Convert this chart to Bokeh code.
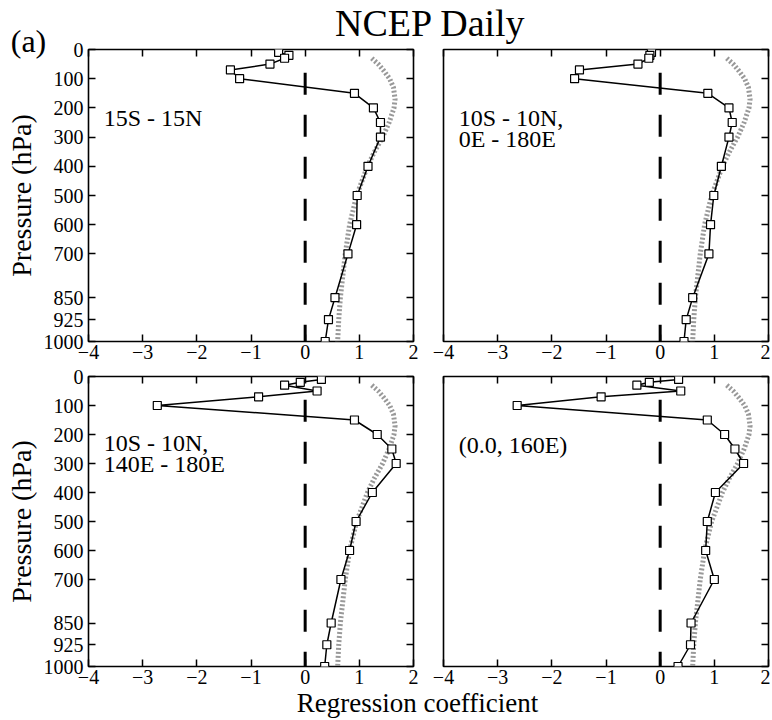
from bokeh.plotting import figure
from bokeh.layouts import column, row
from bokeh.models import FixedTicker, LinearAxis, Label, Range1d
from bokeh.embed import file_html
from bokeh.resources import INLINE

# ---------------- data ----------------
TITLE = "NCEP Daily"
PANEL_TAG = "(a)"
X_LABEL = "Regression coefficient"
Y_LABEL = "Pressure (hPa)"

pressure = [10, 20, 30, 50, 70, 100, 150, 200, 250, 300, 400, 500, 600, 700, 850, 925, 1000]
y_ticks = [0, 100, 200, 300, 400, 500, 600, 700, 850, 925, 1000]
x_ticks = [-4, -3, -2, -1, 0, 1, 2]
x_tick_labels = ["\u22124", "\u22123", "\u22122", "\u22121", "0", "1", "2"]

coef_15s_15n = [-0.49, -0.30, -0.38, -0.65, -1.38, -1.21, 0.91, 1.26, 1.39, 1.39,
                1.16, 0.96, 0.95, 0.79, 0.55, 0.43, 0.37]
coef_10s_10n_0e_180e = [-0.16, -0.19, -0.21, -0.41, -1.49, -1.58, 0.88, 1.27, 1.33, 1.27,
                        1.13, 0.99, 0.93, 0.90, 0.60, 0.48, 0.44]
coef_10s_10n_140e_180e = [0.30, -0.09, -0.38, 0.22, -0.86, -2.73, 0.91, 1.33, 1.60, 1.68,
                          1.24, 0.94, 0.82, 0.66, 0.48, 0.40, 0.36]
coef_0n_160e = [0.34, -0.20, -0.43, 0.38, -1.09, -2.64, 0.87, 1.19, 1.38, 1.54,
                1.02, 0.87, 0.84, 1.00, 0.57, 0.56, 0.33]

ref_pressure = [30, 50, 70, 100, 130, 170, 200, 250, 300, 350, 400, 500, 600, 700, 850, 925, 1000]
ref_coef = [1.23, 1.35, 1.44, 1.56, 1.63, 1.66, 1.64, 1.55, 1.43, 1.28, 1.15, 0.95, 0.82,
            0.74, 0.65, 0.62, 0.60]

zero_x = [0, 0]
zero_p = [80, 1000]

region_15s_15n = ["15S - 15N"]
region_0e_180e = ["10S - 10N,", "0E - 180E"]
region_140e_180e = ["10S - 10N,", "140E - 180E"]
region_point = ["(0.0, 160E)"]

FONT = "Liberation Serif"


def style_axis(ax, labels=True, standoff=3):
    ax.axis_line_color = None
    ax.major_tick_in = 7
    ax.major_tick_out = 0
    ax.major_tick_line_color = "black"
    ax.major_tick_line_width = 1.5
    ax.minor_tick_line_color = None
    ax.major_label_text_font = FONT
    if labels:
        ax.major_label_text_color = "black"
        ax.major_label_text_font_size = "20px"
        ax.major_label_standoff = standoff
    else:
        ax.major_label_text_color = None
        ax.major_label_text_font_size = "0px"
        ax.major_label_standoff = 0


def make_panel(coef, region, left_labels, frame_h, b_top, b_bottom, b_left, b_right,
               label_p):
    p = figure(frame_width=325, frame_height=frame_h,
               x_range=Range1d(-4, 2), y_range=Range1d(1000, 0),
               x_axis_location=None, y_axis_location=None,
               toolbar_location=None, output_backend="svg",
               min_border_top=b_top, min_border_bottom=b_bottom,
               min_border_left=b_left, min_border_right=b_right,
               border_fill_color=None, background_fill_color="white")
    p.outline_line_color = "black"
    p.outline_line_width = 1.6
    p.grid.visible = False

    bottom = LinearAxis(ticker=FixedTicker(ticks=x_ticks),
                        major_label_overrides=dict(zip(x_ticks, x_tick_labels)))
    style_axis(bottom, True, 3)
    p.add_layout(bottom, "below")

    top = LinearAxis(ticker=FixedTicker(ticks=x_ticks))
    style_axis(top, False)
    p.add_layout(top, "above")

    right = LinearAxis(ticker=FixedTicker(ticks=y_ticks))
    style_axis(right, False)
    p.add_layout(right, "right")

    if left_labels:
        left = LinearAxis(ticker=FixedTicker(ticks=y_ticks), axis_label=Y_LABEL)
        style_axis(left, True, 5)
        left.axis_label_text_font = FONT
        left.axis_label_text_font_size = "28px"
        left.axis_label_text_font_style = "normal"
        left.axis_label_text_color = "black"
        left.axis_label_standoff = 4
        p.add_layout(left, "left")

    # reference (dotted grey) profile
    p.line(ref_coef, ref_pressure, line_color="#999999", line_width=5, line_dash="2 2")
    # zero line
    p.line(zero_x, zero_p, line_color="black", line_width=3, line_dash="22 20")
    # regression profile
    p.line(coef, pressure, line_color="black", line_width=1.5)
    p.scatter(coef, pressure, marker="square", size=8, fill_color="white",
              line_color="black", line_width=1.2)

    for i, txt in enumerate(region):
        p.add_layout(Label(x=-3.72, y=label_p + 72 * i, text=txt, text_font=FONT,
                           text_font_size="24px", text_color="black",
                           text_align="left", text_baseline="middle"))
    return p


tl = make_panel(coef_15s_15n, region_15s_15n, True, 292, 49, 26, 88, 15, 234)
tr = make_panel(coef_10s_10n_0e_180e, region_0e_180e, False, 292, 49, 26, 15, 2, 234)
bl = make_panel(coef_10s_10n_140e_180e, region_140e_180e, True, 290, 9, 26, 88, 15, 231)
br = make_panel(coef_0n_160e, region_point, False, 290, 9, 26, 15, 2, 236)

# overlay carrying the figure-wide texts
bg = figure(width=770, height=720, x_range=Range1d(0, 770), y_range=Range1d(720, 0),
            x_axis_location=None, y_axis_location=None, toolbar_location=None,
            output_backend="svg", min_border=0, outline_line_color=None,
            background_fill_color=None, border_fill_color=None,
            margin=(0, 0, -720, 0))
bg.grid.visible = False
bg.add_layout(Label(x=430, y=22, text=TITLE, text_font=FONT, text_font_size="38px",
                    text_color="black", text_align="center", text_baseline="middle"))
bg.add_layout(Label(x=28, y=40, text=PANEL_TAG, text_font=FONT, text_font_size="32px",
                    text_color="black", text_align="center", text_baseline="middle"))
bg.add_layout(Label(x=417, y=702, text=X_LABEL, text_font=FONT, text_font_size="27px",
                    text_color="black", text_align="center", text_baseline="middle"))

layout = column(bg, row(tl, tr), row(bl, br))

open("out.html", "w").write(file_html(layout, INLINE))
